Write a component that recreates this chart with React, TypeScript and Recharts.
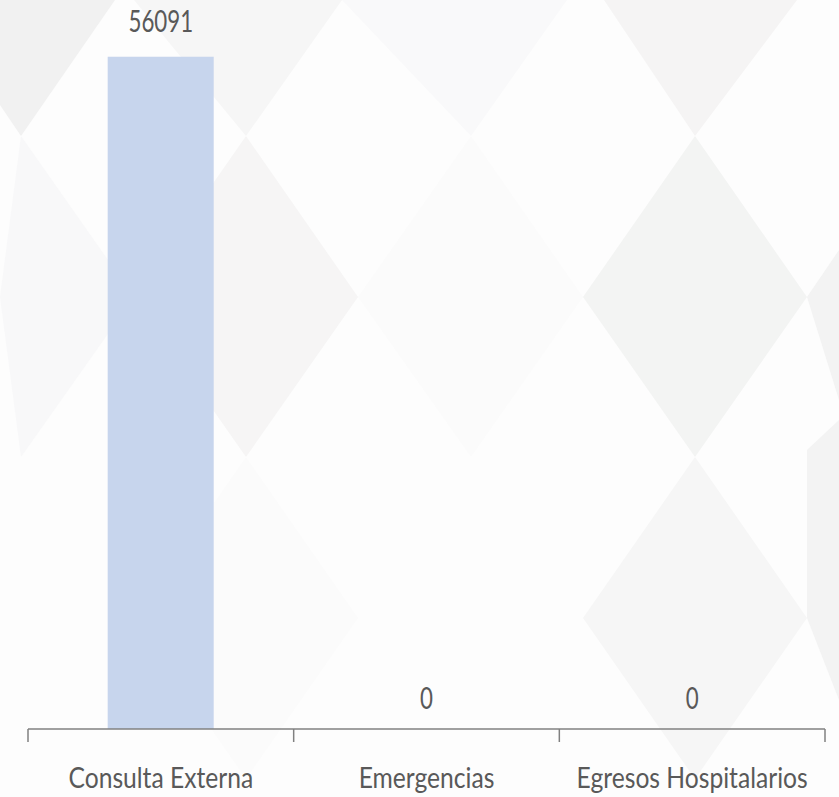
import React from "react";
import { ComposedChart, Bar, Line, XAxis, YAxis, LabelList } from "recharts";

const categories = ["Consulta Externa", "Emergencias", "Egresos Hospitalarios"];
const values = [56091, 0, 0];
// half steps mark the category boundaries, whole steps the category centres
const axisTicks = [-0.5, 0, 0.5, 1, 1.5, 2, 2.5];

const data = categories.map((name, i) => ({ name, idx: i, value: values[i] }));

const FONT = "Lato, 'Open Sans', sans-serif";
const TEXT = "#595959";
const AXIS = "#808080";

// soft diamond pattern behind the plot
const diamonds: { points: string; fill: string }[] = [
  { points: "0,0 115,0 21,136 0,105", fill: "#f1f1f1" },
  { points: "134,0 342,0 246,136", fill: "#f6f6f6" },
  { points: "342,0 567,0 471,136", fill: "#f9f9fa" },
  { points: "604,0 797,0 695,136", fill: "#f5f4f4" },
  { points: "246,136 358,297 246,457 134,297", fill: "#f6f5f5" },
  { points: "695,136 807,297 695,457 583,297", fill: "#f3f4f3" },
  { points: "807,297 839,250 839,400", fill: "#f3f3f3" },
  { points: "0,297 21,136 134,297 21,457", fill: "#f8f8f9" },
  { points: "471,136 583,297 471,457 358,297", fill: "#fbfbfb" },
  { points: "695,457 807,618 695,779 583,618", fill: "#f6f6f6" },
  { points: "807,450 839,420 839,700 807,618", fill: "#f3f3f3" },
  { points: "246,457 358,618 246,779 134,618", fill: "#fbfbfb" },
];

const renderLabel = (props: any) => {
  const { x, y, value } = props;
  const off = value === 0 ? 20 : 25;
  return (
    <g transform={`translate(${x},${Number(y) - off}) scale(0.72,1)`}>
      <text x={0} y={0} textAnchor="middle" fill={TEXT} fontSize={31} fontFamily={FONT}>
        {value}
      </text>
    </g>
  );
};

const renderTick = (props: any) => {
  const { x, y, payload } = props;
  const v = Number(payload.value);
  if (!Number.isInteger(v)) {
    return <line x1={x} x2={x} y1={y} y2={Number(y) + 13} stroke={AXIS} strokeWidth={1.5} />;
  }
  return (
    <g transform={`translate(${x},${Number(y) + 39}) scale(0.88,1)`}>
      <text x={0} y={0} dy="0.71em" textAnchor="middle" fill={TEXT} fontSize={28} fontFamily={FONT}>
        {categories[v]}
      </text>
    </g>
  );
};

export default function App() {
  return (
    <div style={{ position: "absolute", left: 0, top: 0, width: 839, height: 797, background: "#fdfdfd" }}>
      <svg width={839} height={797} style={{ position: "absolute", left: 0, top: 0 }}>
        {diamonds.map((d, i) => (
          <polygon key={i} points={d.points} fill={d.fill} />
        ))}
      </svg>
      <div style={{ position: "absolute", left: 0, top: 0 }}>
        <ComposedChart
          width={839}
          height={797}
          data={data}
          margin={{ top: 10, right: 14, bottom: 0, left: 28 }}
          barCategoryGap="30%"
        >
          <XAxis xAxisId="cat" dataKey="name" hide height={0} />
          <XAxis
            xAxisId="grid"
            dataKey="idx"
            type="number"
            domain={[-0.5, 2.5]}
            allowDataOverflow
            ticks={axisTicks}
            interval={0}
            tickLine={false}
            tickSize={0}
            tickMargin={0}
            tick={renderTick}
            height={68}
            stroke={AXIS}
            strokeWidth={1.5}
          />
          <YAxis hide domain={[0, 60000]} />
          <Bar dataKey="value" xAxisId="cat" fill="#c4d3ec" fillOpacity={0.95} isAnimationActive={false} />
          <Line
            dataKey="value"
            xAxisId="cat"
            stroke="none"
            dot={false}
            activeDot={false}
            isAnimationActive={false}
          >
            <LabelList dataKey="value" content={renderLabel} />
          </Line>
        </ComposedChart>
      </div>
    </div>
  );
}
